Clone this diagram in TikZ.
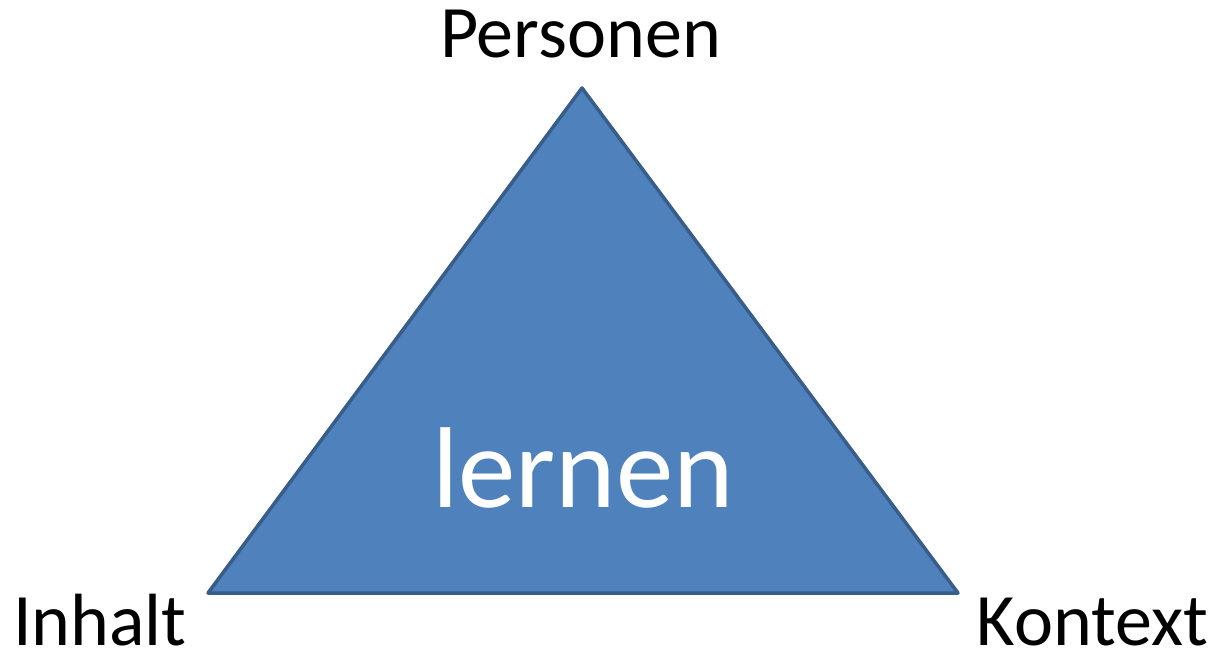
\documentclass[tikz,border=0pt]{standalone}
\usepackage{fontspec}
\setmainfont{Carlito}
\definecolor{trifill}{HTML}{4F81BD}
\definecolor{triedge}{HTML}{385D8A}
\begin{document}
\begin{tikzpicture}[x=1pt,y=-1pt,
  corner/.style={font=\fontsize{74}{80}\selectfont, anchor=base, inner sep=0pt, text=black},
  center/.style={font=\fontsize{115}{120}\selectfont, anchor=base, inner sep=0pt, text=white}]
\useasboundingbox (0,0) rectangle (1215,652);
\coordinate (top) at (582,88);
\coordinate (bl) at (208,593);
\coordinate (br) at (958,593);
\draw[fill=trifill, draw=triedge, line width=3.5pt, line join=round] (top) -- (bl) -- (br) -- cycle;
\node[center] (lernen) at (583,507) {lernen};
\node[corner] (personen) at (580.5,58) {Personen};
\node[corner] (inhalt) at (100,645) {Inhalt};
\node[corner] (kontext) at (1092.5,645) {Kontext};
\end{tikzpicture}
\end{document}
